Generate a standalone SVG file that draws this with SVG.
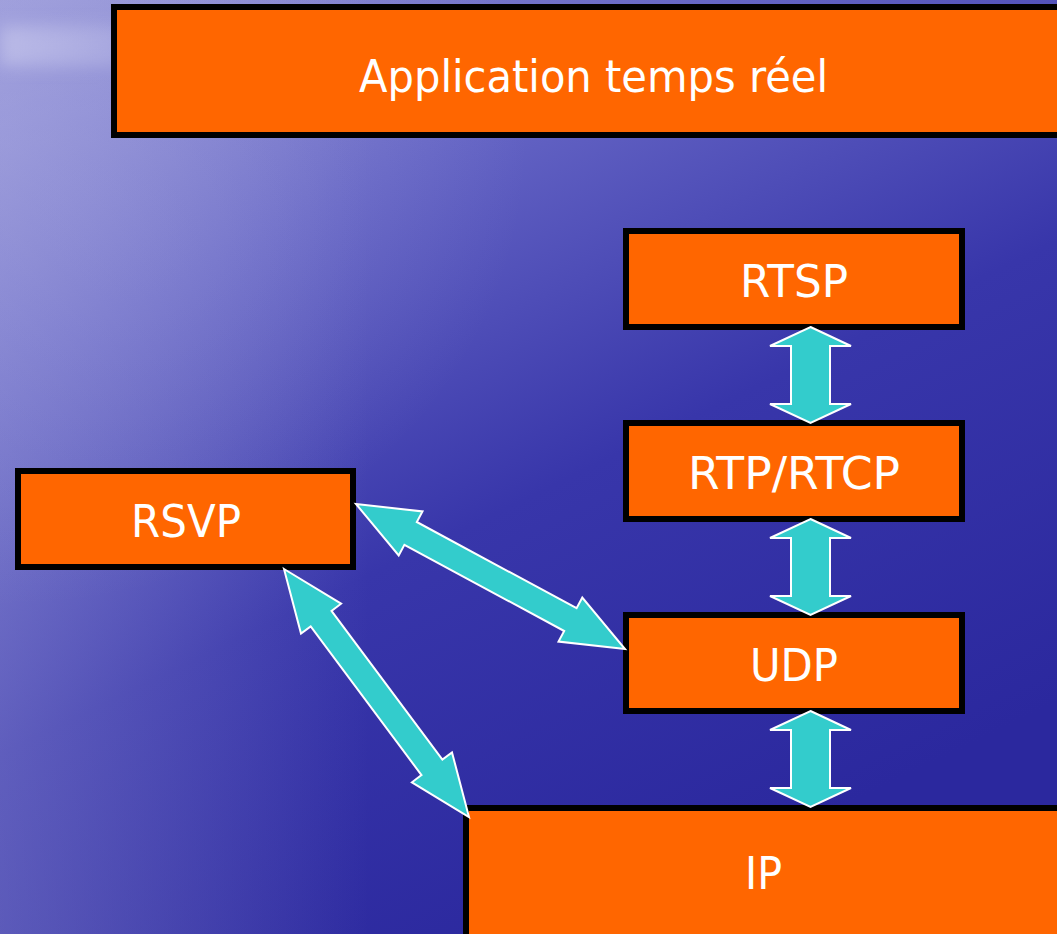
<svg xmlns="http://www.w3.org/2000/svg" width="1057" height="934" viewBox="0 0 1057 934">
  <defs>
    <linearGradient id="bg" x1="0" y1="0" x2="0.55" y2="1">
      <stop offset="0" stop-color="#9494d6"/>
      <stop offset="0.3" stop-color="#6464c4"/>
      <stop offset="0.62" stop-color="#3836aa"/>
      <stop offset="1" stop-color="#2b289e"/>
    </linearGradient>
    <linearGradient id="side" x1="0" y1="0" x2="1" y2="0">
      <stop offset="0" stop-color="#a8a8e0" stop-opacity="0.35"/>
      <stop offset="0.35" stop-color="#a8a8e0" stop-opacity="0"/>
    </linearGradient>
    <radialGradient id="glow" cx="0" cy="0.15" r="0.5">
      <stop offset="0" stop-color="#b0b0e4" stop-opacity="0.35"/>
      <stop offset="1" stop-color="#b0b0e4" stop-opacity="0"/>
    </radialGradient>
    <linearGradient id="streak" x1="0" y1="0" x2="1" y2="0">
      <stop offset="0" stop-color="#d0d0f0" stop-opacity="0.55"/>
      <stop offset="0.75" stop-color="#d0d0f0" stop-opacity="0.3"/>
      <stop offset="1" stop-color="#d0d0f0" stop-opacity="0"/>
    </linearGradient>
    <filter id="soft" x="-20%" y="-100%" width="140%" height="300%">
      <feGaussianBlur stdDeviation="8"/>
    </filter>
  </defs>
  <style>
    .box { fill: #ff6600; stroke: #000; stroke-width: 6; }
    .label { fill: #fff; font-family: "DejaVu Sans", "Noto Sans", sans-serif; font-size: 44px; text-anchor: middle; }
    .arrow { fill: #33cccc; stroke: #fff; stroke-width: 2; stroke-linejoin: miter; }
  </style>

  <!-- backdrop -->
  <rect x="0" y="0" width="1057" height="934" fill="url(#bg)"/>
  <rect x="0" y="0" width="1057" height="934" fill="url(#side)"/>
  <rect x="0" y="0" width="1057" height="934" fill="url(#glow)"/>
  <rect x="0" y="26" width="150" height="40" fill="url(#streak)" filter="url(#soft)"/>

  <g id="app">
    <rect class="box" x="114" y="7" width="960" height="128"/>
    <text class="label" x="593.5" y="92" textLength="469" lengthAdjust="spacingAndGlyphs">Application temps réel</text>
  </g>

  <g id="rtsp">
    <rect class="box" x="626" y="231" width="336" height="96"/>
    <text class="label" x="794" y="297" textLength="108" lengthAdjust="spacingAndGlyphs">RTSP</text>
  </g>

  <g id="rtp">
    <rect class="box" x="626" y="423" width="336" height="96"/>
    <text class="label" x="794" y="489" textLength="212" lengthAdjust="spacingAndGlyphs">RTP/RTCP</text>
  </g>

  <g id="udp">
    <rect class="box" x="626" y="615" width="336" height="96"/>
    <text class="label" x="794" y="681" textLength="88" lengthAdjust="spacingAndGlyphs">UDP</text>
  </g>

  <g id="rsvp">
    <rect class="box" x="18" y="471" width="335" height="96"/>
    <text class="label" x="186" y="537" textLength="110" lengthAdjust="spacingAndGlyphs">RSVP</text>
  </g>

  <g id="ip">
    <rect class="box" x="466" y="808" width="620" height="160"/>
    <text class="label" x="763.5" y="889" textLength="37" lengthAdjust="spacingAndGlyphs">IP</text>
  </g>

  <g id="connectors">
    <!-- RTSP <-> RTP/RTCP -->
    <path class="arrow" d="M810.5,327 L851,346 L830,346 L830,404 L851,404 L810.5,423 L770,404 L791,404 L791,346 L770,346 Z"/>
    <!-- RTP/RTCP <-> UDP -->
    <path class="arrow" d="M810.5,519 L851,538 L830,538 L830,596 L851,596 L810.5,615 L770,596 L791,596 L791,538 L770,538 Z"/>
    <!-- UDP <-> IP -->
    <path class="arrow" d="M810.5,711 L851,730 L830,730 L830,788 L851,788 L810.5,807 L770,788 L791,788 L791,730 L770,730 Z"/>
    <!-- RSVP <-> UDP -->
    <path class="arrow" d="M356,504 L422.5,511.4 L416.8,522 L576.6,608.2 L582.3,597.6 L625,649 L558.5,641.6 L564.2,631 L404.4,544.8 L398.7,555.4 Z"/>
    <!-- RSVP <-> IP -->
    <path class="arrow" d="M284,569 L341.1,603.7 L331.5,610.9 L442.4,759.5 L452,752.4 L469,817 L411.9,782.3 L421.5,775.1 L310.7,626.5 L301,633.6 Z"/>
  </g>
</svg>
